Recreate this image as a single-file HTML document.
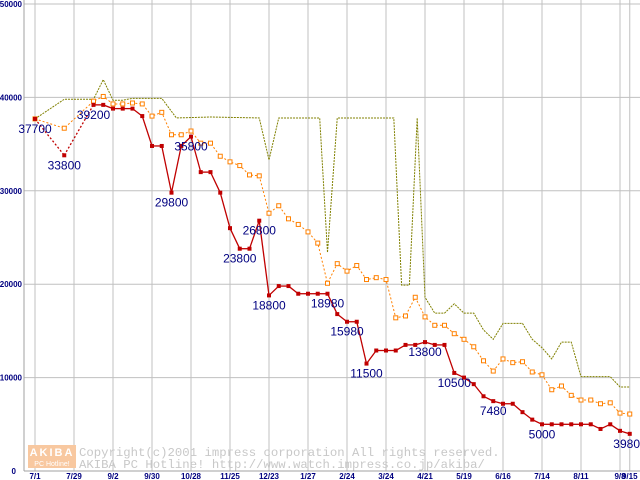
<!DOCTYPE html>
<html><head><meta charset="utf-8">
<style>
html,body{margin:0;padding:0;background:#fff;}
svg{display:block;font-family:"Liberation Sans",sans-serif;}
</style></head>
<body>
<svg id="chart" width="640" height="480" viewBox="0 0 640 480" xmlns="http://www.w3.org/2000/svg">
<rect x="0" y="0" width="640" height="480" fill="#fff"/>
<g id="grid"></g>
<g id="axes"></g>
<g id="watermark">
  <rect x="28" y="445" width="48" height="23" fill="#f8c8a0"/>
  <text x="52" y="456" font-size="11" font-weight="bold" fill="#fff" text-anchor="middle" letter-spacing="2">AKIBA</text>
  <text x="52" y="466" font-size="7" fill="#fff" text-anchor="middle">PC Hotline!</text>
  <text x="79" y="456" font-size="12.3" fill="#c8c8c8" font-family="Liberation Mono, monospace">Copyright(c)2001 impress corporation All rights reserved.</text>
  <text x="79" y="468" font-size="12.3" fill="#c8c8c8" font-family="Liberation Mono, monospace">AKIBA PC Hotline!  http://www.watch.impress.co.jp/akiba/</text>
</g>
<g id="series"></g>
<g id="labels"></g>
</svg>
<script>
const xTickWeeks = [0,4,8,12,16,20,24,28,32,36,40,44,48,52,56,60,61];
const xTickLabels = ["7/1","7/29","9/2","9/30","10/28","11/25","12/23","1/27","2/24","3/24","4/21","5/19","6/16","7/14","8/11","9/8","9/15"];
const yTicks = [0,10000,20000,30000,40000,50000];

const redWeeks = [0,3,6,7,8,9,10,11,12,13,14,15,16,17,18,19,20,21,22,23,24,25,26,27,28,29,30,31,32,33,34,35,36,37,38,39,40,41,42,43,44,45,46,47,48,49,50,51,52,53,54,55,56,57,58,59,60,61];
const redValues = [37700,33800,39200,39200,38800,38800,38800,38000,34800,34800,29800,34800,35800,32000,32000,29800,26000,23800,23800,26800,18800,19800,19800,18980,18980,18980,18980,16800,15980,15980,11500,12900,12900,12900,13500,13500,13800,13500,13500,10500,10000,9300,8000,7480,7200,7200,6300,5500,5000,5000,5000,5000,5000,5000,4500,5000,4300,3980];

const orangeWeeks = [0,3,6,7,8,9,10,11,12,13,14,15,16,17,18,19,20,21,22,23,24,25,26,27,28,29,30,31,32,33,34,35,36,37,38,39,40,41,42,43,44,45,46,47,48,49,50,51,52,53,54,55,56,57,58,59,60,61];
const orangeValues = [37700,36700,39600,40100,39300,39300,39400,39300,38000,38400,36000,36000,36400,35100,35100,33700,33100,32700,31700,31600,27600,28400,27000,26400,25600,24400,20100,22200,21400,22000,20500,20700,20500,16400,16600,18600,16500,15600,15600,14700,14100,13300,11800,10700,12000,11600,11700,10600,10300,8700,9100,8100,7600,7600,7200,7300,6200,6100];

const oliveWeeks = [0,3,6,7,8,9,10,13,14.5,18,23,24,25,29.2,30,31,36.8,37.6,38.4,39.2,40,41,42,43,44,45,46,47,48,50,51,52,53,54,55,56,59,60,61];
const oliveValues = [37700,39800,39800,41900,39700,39700,39900,39900,37800,37900,37800,33300,37800,37800,23400,37800,37800,19900,19900,37800,18600,16900,16900,17900,16900,16900,15100,14100,15800,15800,14100,13200,12000,13800,13800,10100,10100,9000,9000];

const labelWeeks = [0,3,6,14,16,23,21,24,30,32,34,40,43,47,52,61];
const labelValues = [37700,33800,39200,29800,35800,26800,23800,18800,18980,15980,11500,13800,10500,7480,5000,3980];

const X0=35, WK=9.75, Y0=471, YS=93.4/10000, LEFT=24;
const xs = w => X0 + w*WK;
const ys = v => Y0 - v*YS;
const NS="http://www.w3.org/2000/svg";
function mk(tag, attrs, parent){const e=document.createElementNS(NS,tag);for(const k in attrs)e.setAttribute(k,attrs[k]);parent.appendChild(e);return e;}
const grid=document.getElementById('grid'), axes=document.getElementById('axes'), series=document.getElementById('series'), labels=document.getElementById('labels');

yTicks.forEach((v,i)=>{
  if(v>0){const l=mk('line',{x1:LEFT,x2:640,y1:ys(v),y2:ys(v),stroke:'#c0c0c0','stroke-width':1},grid);
  
  }
  const t=mk('text',{x:v===0?16:22,y:ys(v)+3,'font-size':8,'font-weight':'bold',fill:'#000080','text-anchor':'end'},axes);
  t.textContent=String(v);
  
  
});
xTickWeeks.forEach((w,i)=>{
  const l=mk('line',{x1:xs(w),x2:xs(w),y1:0,y2:Y0,stroke:'#c0c0c0','stroke-width':1},grid);
  
  
  const t=mk('text',{x:xs(w),y:479,'font-size':8,'font-weight':'bold',fill:'#000080','text-anchor':'middle'},axes);
  t.textContent=xTickLabels[i];
  
  
});
const ya=mk('line',{x1:LEFT,x2:LEFT,y1:0,y2:Y0,stroke:'#a0a0a0'},axes);


const xa=mk('line',{x1:LEFT,x2:640,y1:Y0,y2:Y0,stroke:'#a0a0a0'},axes);



const op=mk('polyline',{points:oliveWeeks.map((w,i)=>xs(w)+','+ys(oliveValues[i])).join(' '),fill:'none',stroke:'#808000','stroke-width':1,'stroke-dasharray':'2,1'},series);


const orp=mk('polyline',{points:orangeWeeks.map((w,i)=>xs(w)+','+ys(orangeValues[i])).join(' '),fill:'none',stroke:'#ff8000','stroke-width':1,'stroke-dasharray':'2,2'},series);


orangeWeeks.forEach((w,i)=>{
  const r=mk('rect',{x:xs(w)-2,y:ys(orangeValues[i])-2,width:4,height:4,fill:'#fff',stroke:'#ff8000','stroke-width':1},series);
  
  
});
for(let i=1;i<redWeeks.length;i++){
  const gap=redWeeks[i]-redWeeks[i-1]>1;
  const s=mk('line',{x1:xs(redWeeks[i-1]),y1:ys(redValues[i-1]),x2:xs(redWeeks[i]),y2:ys(redValues[i]),stroke:'#c00000','stroke-width':1.3},series);
  if(gap)s.setAttribute('stroke-dasharray','2,2');
  
  
}
redWeeks.forEach((w,i)=>{
  const r=mk('rect',{x:xs(w)-2,y:ys(redValues[i])-2,width:4,height:4,fill:'#c00000'},series);
  
  
});
labelWeeks.forEach((w,i)=>{
  let x=xs(w), anchor='middle';
  if(i===labelWeeks.length-1){x=640;anchor='end';}
  const t=mk('text',{x:x,y:ys(labelValues[i])+14,'font-size':12,fill:'#000080','text-anchor':anchor},labels);
  t.textContent=String(labelValues[i]);
  
  
});
</script>
</body></html>
